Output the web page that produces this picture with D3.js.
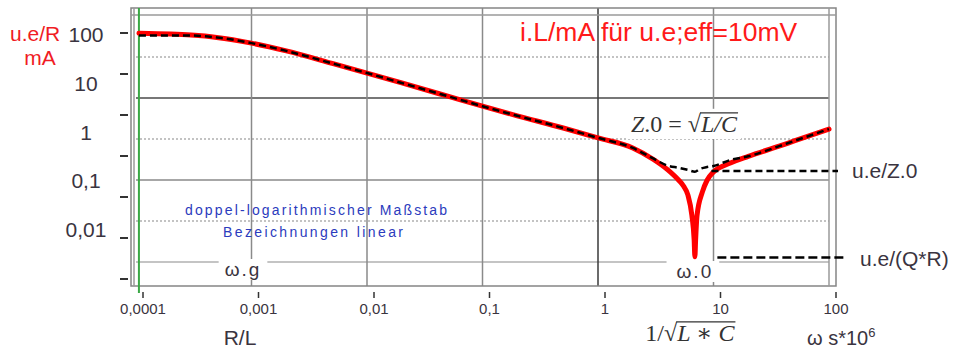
<!DOCTYPE html>
<html><head><meta charset="utf-8">
<script src="https://cdn.jsdelivr.net/npm/d3@7"></script>
<style>
html,body{margin:0;padding:0;background:#fff;}
svg{display:block;font-family:"Liberation Sans",Arial,sans-serif;}
</style></head><body>
<svg id="chart" width="954" height="351"></svg>
<script>
// ---------- data ----------
const xTickValues = [0.0001, 0.001, 0.01, 0.1, 1, 10, 100];
const xTickLabels = ["0,0001", "0,001", "0,01", "0,1", "1", "10", "100"];
const yLabelValues = [100, 10, 1, 0.1, 0.01];
const yLabelTexts = ["100", "10", "1", "0,1", "0,01"];
const yTickMarkValues = [100, 10, 1, 0.1, 0.01, 0.001, 0.0001];
const gridRowIndex = [1, 2, 3, 4, 5, 6];

const omegaRed = [0.000106, 0.0002, 0.0003, 0.0005, 0.001, 0.002, 0.005, 0.01, 0.02, 0.05, 0.1, 0.2, 0.5, 1, 2, 3, 4, 5, 5.5, 6, 6.5, 6.8, 6.9, 7.0, 7.2, 8, 8.8, 10, 14, 20, 37, 50, 100];
const iRed     = [104, 100, 95, 85, 65, 45, 25, 15.8, 9.9, 5.3, 3.3, 2.1, 1.18, 0.74, 0.46, 0.27, 0.165, 0.10, 0.076, 0.05, 0.019, 0.006, 0.0027, 0.006, 0.019, 0.057, 0.10, 0.148, 0.226, 0.31, 0.5, 0.64, 1.12];

const omegaBlack = [0.000106, 0.0003, 0.0005, 0.001, 0.002, 0.005, 0.01, 0.02, 0.05, 0.1, 0.2, 0.5, 1, 2, 3, 4, 5, 6, 6.9, 7.6, 8.8, 10, 14, 20, 37, 50, 100];
const iBlack     = [93, 93, 85, 65, 45, 25, 15.8, 9.9, 5.3, 3.3, 2.1, 1.18, 0.74, 0.46, 0.28, 0.2, 0.18, 0.163, 0.15, 0.17, 0.187, 0.196, 0.26, 0.31, 0.5, 0.64, 1.12];

const omegaG = 0.000106;
const omega0 = 6.9;
const iZ0 = 0.155;
const iQR = 0.0026;
const omegaZ0LineStart = 9.6;
const omegaQRLineStart = 10.8;

// ---------- scales ----------
const svg = d3.select("#chart");
const x = d3.scaleLog().domain([1e-4, 100]).range([136, 829]);
const y = d3.scaleLog().domain([100, 0.01]).range([34, 229]);        // data + value labels
const yMark = d3.scaleLog().domain([100, 0.0001]).range([33, 279]);  // small tick marks
const row = d3.scaleLinear().domain([0, 6]).range([16, 262]);       // horizontal grid rows
const xAxisShift = 7;

const frame = {l: 131, r: 836, t: 8, b: 286, il: x(1e-4), ir: x(100), it: 15};

// ---------- grid ----------
const grid = svg.append("g");
grid.selectAll("line.row").data(gridRowIndex).enter().append("line")
  .attr("x1", frame.il).attr("x2", frame.ir)
  .attr("y1", d => row(d)).attr("y2", d => row(d))
  .attr("stroke", d => d === 2 ? "#4a4a4a" : d === 4 ? "#8a8a8a" : d === 6 ? "#c4c4c4" : "#b0b0b0")
  .attr("stroke-width", d => d === 6 ? 2 : 1.5)
  .attr("stroke-dasharray", d => (d % 2 === 1) ? "2,2" : null);

grid.selectAll("line.col").data(xTickValues.slice(1, -1)).enter().append("line")
  .attr("x1", d => x(d)).attr("x2", d => x(d))
  .attr("y1", frame.t).attr("y2", frame.b)
  .attr("stroke", d => d === 1 ? "#3a3a3a" : "#8a8a8a")
  .attr("stroke-width", 1.5);

// frame (double lines)
grid.append("rect").attr("x", frame.l).attr("y", frame.t)
  .attr("width", frame.r - frame.l).attr("height", frame.b - frame.t)
  .attr("fill", "none").attr("stroke", "#858585").attr("stroke-width", 1.5);
grid.append("line").attr("x1", frame.l).attr("x2", frame.r).attr("y1", frame.it).attr("y2", frame.it)
  .attr("stroke", "#9a9a9a").attr("stroke-width", 1.5);
grid.append("line").attr("x1", frame.il - 2).attr("x2", frame.il - 2).attr("y1", frame.t).attr("y2", frame.b)
  .attr("stroke", "#9a9a9a").attr("stroke-width", 1.5);
grid.append("line").attr("x1", frame.ir).attr("x2", frame.ir).attr("y1", frame.t).attr("y2", frame.b)
  .attr("stroke", "#9a9a9a").attr("stroke-width", 1.5);

// green omega.g line
svg.append("line").attr("x1", x(omegaG)).attr("x2", x(omegaG))
  .attr("y1", frame.t).attr("y2", frame.b + 7)
  .attr("stroke", "#3aa845").attr("stroke-width", 2);

// ---------- axes ----------
const yMarks = svg.append("g");
yMarks.selectAll("line").data(yTickMarkValues).enter().append("line")
  .attr("x1", 120).attr("x2", 128)
  .attr("y1", d => yMark(d)).attr("y2", d => yMark(d))
  .attr("stroke", "#333").attr("stroke-width", 2);

svg.append("g").selectAll("text").data(yLabelValues).enter().append("text")
  .attr("x", 86).attr("y", d => y(d) + 8)
  .attr("text-anchor", "middle").attr("font-size", 21).attr("fill", "#3a3440")
  .text((d, i) => yLabelTexts[i]);

const xAxis = svg.append("g");
xAxis.selectAll("line").data(xTickValues).enter().append("line")
  .attr("x1", d => x(d) + xAxisShift).attr("x2", d => x(d) + xAxisShift)
  .attr("y1", 292).attr("y2", 298)
  .attr("stroke", "#333").attr("stroke-width", 1.5);
xAxis.selectAll("text").data(xTickValues).enter().append("text")
  .attr("x", d => x(d) + xAxisShift).attr("y", 314)
  .attr("text-anchor", "middle").attr("font-size", 15).attr("fill", "#3a3440")
  .text((d, i) => xTickLabels[i]);

// ---------- helper: label with white background ----------
function bgText(txt, cx, baseline, size, color, pad) {
  const g = svg.append("g");
  const r = g.append("rect").attr("fill", "#fff");
  const t = g.append("text").attr("x", cx).attr("y", baseline).attr("text-anchor", "middle")
    .attr("font-size", size).attr("fill", color).attr("letter-spacing", 2).text(txt);
  const b = t.node().getBBox();
  r.attr("x", b.x - pad[0]).attr("y", b.y).attr("width", b.width + pad[0] + pad[1]).attr("height", b.height);
  return g;
}

bgText("ω.g", 243, 276, 19, "#3a3440", [6, 6]);
bgText("ω.0", x(omega0), 278, 19, "#3a3440", [10, 6]);

// math labels with radical
function mathLabel(parts, cx, baseline, size, bg) {
  const g = svg.append("g");
  const rect = g.append("rect").attr("fill", "#fff");
  const t = g.append("text").attr("y", baseline)
    .attr("font-family", '"Liberation Serif","DejaVu Serif",serif')
    .attr("font-size", size).attr("fill", "#333");
  let idx = 0, radStart = 0;
  parts.forEach(p => {
    t.append("tspan").attr("font-style", p.it ? "italic" : "normal").text(p.t);
    if (p.rad) radStart = idx;
    idx += p.t.length;
  });
  const node = t.node();
  const w = node.getComputedTextLength();
  t.attr("x", cx - w / 2);
  const s = node.getStartPositionOfChar(radStart).x;
  const e = node.getEndPositionOfChar(node.getNumberOfChars() - 1).x;
  const by = baseline - size * 0.80;
  g.append("line").attr("x1", s - 1).attr("x2", e + 1).attr("y1", by).attr("y2", by)
    .attr("stroke", "#333").attr("stroke-width", 1.3);
  if (bg) {
    const b = node.getBBox();
    rect.attr("x", b.x - 3).attr("y", by - 4).attr("width", b.width + 6).attr("height", b.y + b.height - by + 6);
  }
}

mathLabel([{t: "Z", it: 1}, {t: ".0 = √", it: 0}, {t: "L/C", it: 1, rad: 1}], 684, 132, 24, true);
mathLabel([{t: "1/√", it: 0}, {t: "L ∗ C", it: 1, rad: 1}], x(omega0) - 5, 341, 24, false);

// ---------- curves ----------
const line = d3.line().x(d => x(d[0])).y(d => y(d[1])).curve(d3.curveMonotoneX);
svg.append("path").datum(d3.zip(omegaRed, iRed)).attr("d", line)
  .attr("fill", "none").attr("stroke", "#ff0000").attr("stroke-width", 5)
  .attr("stroke-linecap", "round").attr("stroke-linejoin", "round");
svg.append("path").datum(d3.zip(omegaBlack, iBlack)).attr("d", line)
  .attr("fill", "none").attr("stroke", "#000").attr("stroke-width", 2.5)
  .attr("stroke-dasharray", "7,4");

svg.append("line").attr("x1", x(omegaZ0LineStart)).attr("x2", frame.r + 2)
  .attr("y1", y(iZ0)).attr("y2", y(iZ0))
  .attr("stroke", "#000").attr("stroke-width", 2.5).attr("stroke-dasharray", "7,4");
svg.append("line").attr("x1", x(omegaQRLineStart)).attr("x2", frame.r + 11)
  .attr("y1", y(iQR)).attr("y2", y(iQR))
  .attr("stroke", "#000").attr("stroke-width", 2.5).attr("stroke-dasharray", "9,4");

// ---------- texts ----------
svg.append("text").attr("x", 852).attr("y", y(iZ0) + 7).attr("font-size", 21).attr("fill", "#3a3440").text("u.e/Z.0");
svg.append("text").attr("x", 860).attr("y", y(iQR) + 8).attr("font-size", 21).attr("fill", "#3a3440").text("u.e/(Q*R)");

svg.append("text").attr("x", 520).attr("y", 41).attr("font-size", 26.5).attr("fill", "#ff1a1a")
  .text("i.L/mA für u.e;eff=10mV");
svg.append("text").attr("x", 10).attr("y", 41).attr("font-size", 21).attr("fill", "#f01c24").text("u.e/R");
svg.append("text").attr("x", 40).attr("y", 65).attr("text-anchor", "middle").attr("font-size", 21).attr("fill", "#f01c24").text("mA");

svg.append("text").attr("x", 316).attr("y", 215).attr("text-anchor", "middle").attr("font-size", 14)
  .attr("fill", "#2b3bbd").attr("textLength", 262).attr("lengthAdjust", "spacing")
  .text("doppel-logarithmischer Maßstab");
svg.append("text").attr("x", 313).attr("y", 237).attr("text-anchor", "middle").attr("font-size", 14)
  .attr("fill", "#2b3bbd").attr("textLength", 180).attr("lengthAdjust", "spacing")
  .text("Bezeichnungen linear");

svg.append("text").attr("x", 240).attr("y", 345).attr("text-anchor", "middle").attr("font-size", 21).attr("fill", "#3a3440").text("R/L");
const ws = svg.append("text").attr("x", 807).attr("y", 345).attr("font-size", 20).attr("fill", "#3a3440");
ws.append("tspan").text("ω s*10");
ws.append("tspan").attr("font-size", 13).attr("dy", -8).text("6");
</script>
</body></html>
